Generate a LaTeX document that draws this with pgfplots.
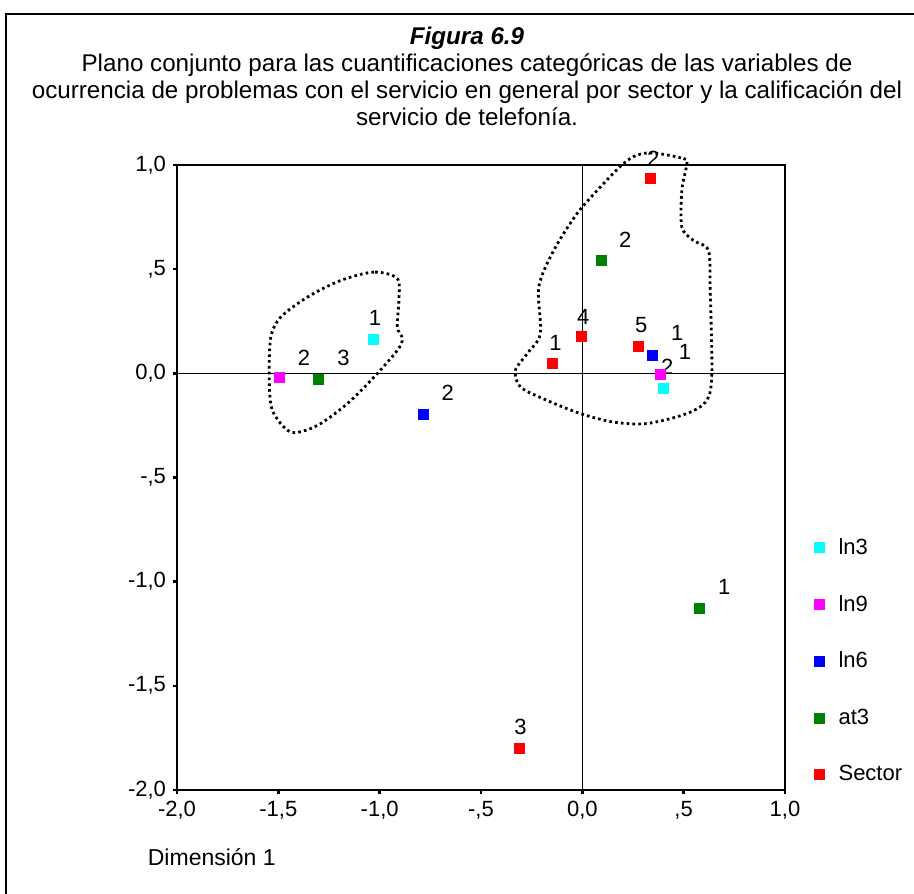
\documentclass[border=0pt]{standalone}
\usepackage{pgfplots}
\pgfplotsset{compat=1.18}
\usepackage{fontspec}
\setmainfont{Liberation Sans}
\definecolor{mcyan}{RGB}{0,255,255}
\definecolor{mmag}{RGB}{255,0,255}
\definecolor{mblue}{RGB}{0,0,255}
\definecolor{mgreen}{RGB}{0,128,0}
\definecolor{mred}{RGB}{255,0,0}
\begin{document}
\begin{tikzpicture}
\useasboundingbox (-88.5pt,-51.5pt) rectangle (368.5pt,395pt);
\draw[line width=1pt] (370pt,388pt) -- (-85.5pt,388pt) -- (-85.5pt,-53pt);
\begin{axis}[
  scale only axis, width=304pt, height=312.5pt,
  at={(0,0)}, anchor=south west,
  xmin=-2, xmax=1, ymin=-2, ymax=1,
  xtick={-2,-1.5,-1,-0.5,0,0.5,1},
  xticklabels={{-2,0},{-1,5},{-1,0},{-,5},{0,0},{,5},{1,0}},
  ytick={-2,-1.5,-1,-0.5,0,0.5,1},
  yticklabels={{-2,0},{-1,5},{-1,0},{-,5},{0,0},{,5},{1,0}},
  axis line style={line width=1pt},
  tick style={line width=1.2pt, black},
  major tick length=2pt, tick align=outside,
  xtick pos=bottom, ytick pos=left,
  tick label style={font=\fontsize{11}{13}\selectfont},
  clip=false,
  title={\textbf{\textit{Figura 6.9}}\\Plano conjunto para las cuantificaciones categóricas de las variables de\\ocurrencia de problemas con el servicio en general por sector y la calificación del\\servicio de telefonía.},
  title style={at={(axis description cs:0.477,1.122)}, anchor=center, align=center, font=\fontsize{12.1}{13.5}\selectfont},
  xlabel={Dimensión 1},
  xlabel style={at={(axis description cs:-0.0595,-0.107)}, anchor=west, font=\fontsize{11.5}{13}\selectfont},
  legend style={at={(axis description cs:1.048,0.410)}, anchor=north west, draw=none, fill=none, inner sep=0pt,
    font=\fontsize{11}{13}\selectfont, row sep=15pt, cells={anchor=west}},
  legend image code/.code={\draw[#1, only marks] plot coordinates {(0pt,0pt)}; \path[draw=none, fill=none] (-2.5pt,0pt) -- (7.5pt,0pt);},
  every axis plot/.append style={only marks, mark=square*, mark size=2.5pt},
]
\addplot[mark options={draw=mcyan, fill=mcyan}] coordinates {(-1.033,0.163) (0.402,-0.070)};
\addlegendentry{ln3}
\addplot[mark options={draw=mmag, fill=mmag}] coordinates {(-1.494,-0.021) (0.384,-0.005)};
\addlegendentry{ln9}
\addplot[mark options={draw=mblue, fill=mblue}] coordinates {(-0.783,-0.197) (0.345,0.088)};
\addlegendentry{ln6}
\addplot[mark options={draw=mgreen, fill=mgreen}] coordinates {(0.578,-1.127) (0.094,0.542) (-1.300,-0.030)};
\addlegendentry{at3}
\addplot[mark options={draw=mred, fill=mred}] coordinates {(-0.148,0.047) (0.338,0.935) (-0.310,-1.800) (-0.005,0.179) (0.277,0.131)};
\addlegendentry{Sector}

\draw[line width=0.7pt] (axis cs:0,-2) -- (axis cs:0,1);
\draw[line width=0.7pt] (axis cs:-2,0) -- (axis cs:1,0);

\begin{scope}[font=\fontsize{11}{13}\selectfont]
\node at (axis cs:0.350,1.032) {2};
\node at (axis cs:0.212,0.643) {2};
\node at (axis cs:0.005,0.269) {4};
\node at (axis cs:-0.133,0.144) {1};
\node at (axis cs:0.291,0.230) {5};
\node at (axis cs:0.468,0.192) {1};
\node at (axis cs:0.507,0.101) {1};
\node at (axis cs:0.419,0.029) {2};
\node at (axis cs:-1.373,0.075) {2};
\node at (axis cs:-1.179,0.075) {3};
\node at (axis cs:-1.023,0.267) {1};
\node at (axis cs:-0.664,-0.095) {2};
\node at (axis cs:0.700,-1.023) {1};
\node at (axis cs:-0.305,-1.699) {3};
\end{scope}

\draw[line width=1.4pt, dash pattern=on 1.3pt off 1.6pt] plot[smooth cycle, tension=0.5] coordinates {
(axis cs:-0.913,0.455) (axis cs:-1.028,0.486) (axis cs:-1.192,0.446) (axis cs:-1.356,0.366)
(axis cs:-1.488,0.270) (axis cs:-1.537,0.174) (axis cs:-1.545,-0.018) (axis cs:-1.529,-0.178)
(axis cs:-1.438,-0.282) (axis cs:-1.307,-0.250) (axis cs:-1.159,-0.145) (axis cs:-1.028,-0.018)
(axis cs:-0.913,0.110) (axis cs:-0.888,0.167) (axis cs:-0.913,0.222) (axis cs:-0.905,0.350)};

\draw[line width=1.4pt, dash pattern=on 1.3pt off 1.6pt] plot[smooth cycle, tension=0.5] coordinates {
(axis cs:0.351,1.058) (axis cs:0.499,1.031) (axis cs:0.516,1.007) (axis cs:0.491,0.879)
(axis cs:0.491,0.702) (axis cs:0.548,0.638) (axis cs:0.622,0.590) (axis cs:0.631,0.398)
(axis cs:0.639,-0.001) (axis cs:0.614,-0.130) (axis cs:0.516,-0.193) (axis cs:0.319,-0.241)
(axis cs:0.154,-0.234) (axis cs:-0.010,-0.193) (axis cs:-0.174,-0.130) (axis cs:-0.305,-0.066)
(axis cs:-0.330,0.014) (axis cs:-0.272,0.095) (axis cs:-0.207,0.191) (axis cs:-0.215,0.414)
(axis cs:-0.141,0.590) (axis cs:-0.026,0.767) (axis cs:0.105,0.911) (axis cs:0.203,1.007)
(axis cs:0.269,1.047)};
\end{axis}
\end{tikzpicture}
\end{document}
